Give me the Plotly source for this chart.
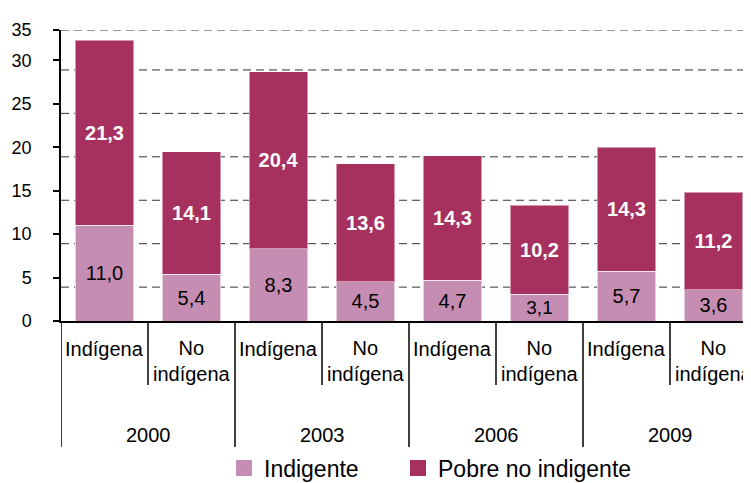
import plotly.graph_objects as go

years = ["2000", "2003", "2006", "2009"]
groups = ["Indígena", "No<br>indígena"]
categories = ["2000 Indígena", "2000 No indígena", "2003 Indígena", "2003 No indígena",
              "2006 Indígena", "2006 No indígena", "2009 Indígena", "2009 No indígena"]
indigente = [11.0, 5.4, 8.3, 4.5, 4.7, 3.1, 5.7, 3.6]
pobre_no_indigente = [21.3, 14.1, 20.4, 13.6, 14.3, 10.2, 14.3, 11.2]
y_ticks = [0, 5, 10, 15, 20, 25, 30]

DARK = "#A6315F"
LIGHT = "#C48DB1"
FONT = "Liberation Sans"

x_idx = list(range(len(categories)))
y_top = 33.5

fig = go.Figure()
fig.add_trace(go.Bar(
    x=x_idx, y=indigente, name="Indigente", showlegend=False, legendgroup="ind",
    marker=dict(color=LIGHT, line=dict(color="rgba(255,255,255,0.6)", width=1)),
    texttemplate="%{y:.1f}", textposition="inside", insidetextanchor="middle",
    textfont=dict(family=FONT, size=20, color="black"),
    customdata=categories, hovertemplate="%{customdata}: %{y:.1f}<extra>Indigente</extra>",
))
fig.add_trace(go.Bar(
    x=x_idx, y=pobre_no_indigente, name="Pobre no indigente", showlegend=False, legendgroup="pob",
    marker=dict(color=DARK, line=dict(color="rgba(255,255,255,0.5)", width=1)),
    texttemplate="<b>%{y:.1f}</b>", textposition="inside", insidetextanchor="middle",
    textfont=dict(family=FONT, size=20, color="white"),
    customdata=categories, hovertemplate="%{customdata}: %{y:.1f}<extra>Pobre no indigente</extra>",
))
# legend entries with larger square swatches (one legend box per entry for spacing)
for name, col, grp, leg in [("Indigente", LIGHT, "ind", "legend"),
                            ("Pobre no indigente", DARK, "pob", "legend2")]:
    fig.add_trace(go.Scatter(x=[None], y=[None], mode="markers", name=name, legendgroup=grp,
                             legend=leg, marker=dict(symbol="square", size=20, color=col),
                             hoverinfo="skip"))

shapes = []
# dashed gridlines (drawn slightly offset, as in the source chart)
grid_offset = 1.1
for t in y_ticks[1:]:
    shapes.append(dict(type="line", xref="paper", yref="y", x0=0, x1=1,
                       y0=t - grid_offset, y1=t - grid_offset, layer="below",
                       line=dict(color="#333333", width=1, dash="8px,5px")))
shapes.append(dict(type="line", xref="paper", yref="y", x0=0, x1=1, y0=y_top, y1=y_top,
                   layer="below", line=dict(color="#333333", width=1, dash="8px,5px")))

# category separators
for i in range(len(categories) + 1):
    long_line = (i % 2 == 0)
    shapes.append(dict(type="line", xref="x", yref="paper", x0=i - 0.5, x1=i - 0.5,
                       y0=0, y1=-0.433 if long_line else -0.22,
                       line=dict(color="black", width=1.5)))

annotations = []
for i, c in enumerate(categories):
    g = groups[i % 2]
    annotations.append(dict(x=i, y=-0.096 if i % 2 == 0 else -0.137, xref="x", yref="paper",
                            text=g, showarrow=False, yanchor="middle",
                            font=dict(family=FONT, size=20, color="black")))
for j, yr in enumerate(years):
    annotations.append(dict(x=2 * j + 0.5, y=-0.392, xref="x", yref="paper", text=yr,
                            showarrow=False, yanchor="middle",
                            font=dict(family=FONT, size=20, color="black")))
annotations.append(dict(x=0.474, y=1.128, xref="paper", yref="paper",
                        text="(en porcentajes)", showarrow=False, yanchor="middle",
                        font=dict(family="Liberation Serif", size=25, color="black")))

legend_style = dict(orientation="h", y=-0.505, xanchor="left", yanchor="middle",
                    font=dict(family=FONT, size=23, color="black"),
                    itemwidth=30, itemsizing="trace", bgcolor="rgba(0,0,0,0)")

fig.update_layout(
    width=751, height=483,
    margin=dict(l=53, r=8, t=22, b=170, autoexpand=False),
    barmode="stack", bargap=0.33,
    separators=",.",
    plot_bgcolor="white", paper_bgcolor="white",
    font=dict(family=FONT, size=20, color="black"),
    xaxis=dict(range=[-0.5, 7.431], showticklabels=False, ticks="", showgrid=False,
               zeroline=False, showline=True, linecolor="black", linewidth=1.5,
               automargin=False),
    yaxis=dict(range=[0, y_top], tickvals=y_ticks + [y_top],
               ticktext=[str(t) for t in y_ticks] + ["35"],
               ticks="outside", ticklen=6, tickwidth=1.5, tickcolor="black",
               ticklabelstandoff=18, automargin=False,
               tickfont=dict(family=FONT, size=18, color="black"),
               showgrid=False, zeroline=False, showline=True, linecolor="black", linewidth=1.5),
    showlegend=True,
    legend=dict(x=(216 - 53) / 690, **legend_style),
    legend2=dict(x=(390 - 53) / 690, **legend_style),
    shapes=shapes, annotations=annotations,
)

fig.write_html("out.html")
